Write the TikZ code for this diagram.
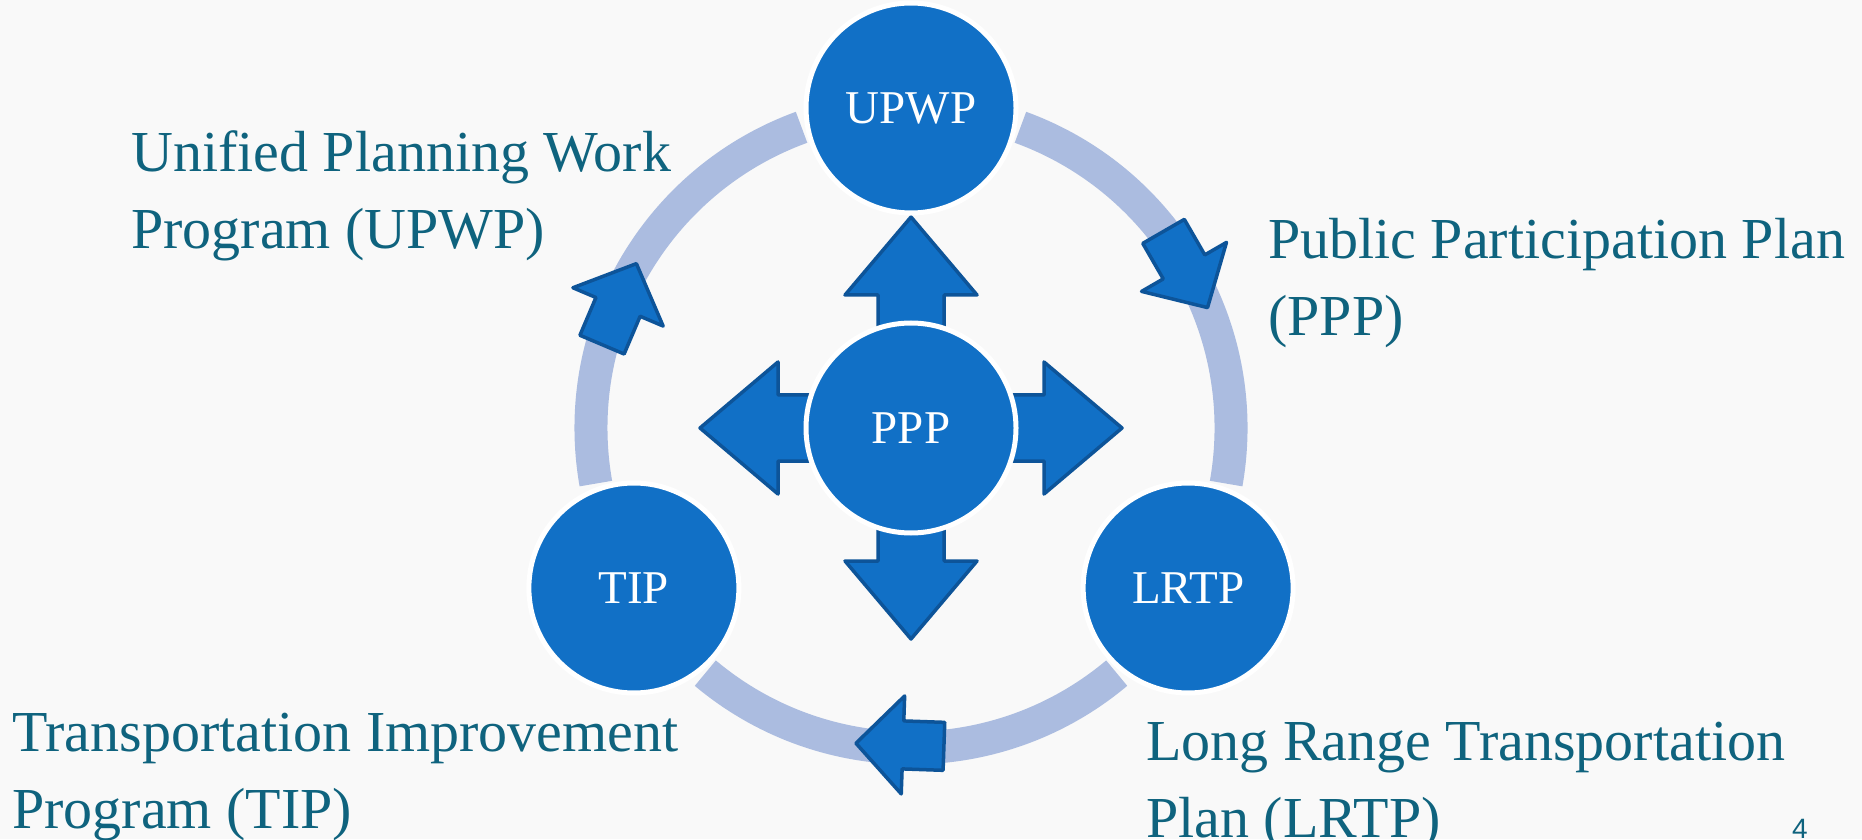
\documentclass[tikz,border=0pt]{standalone}
\usepackage{fontspec}
\setmainfont{Liberation Serif}
\newfontfamily\pagenumfont{Liberation Sans}
\usepackage{xcolor}
\usepackage{tikz}
\usetikzlibrary{calc,positioning}
\definecolor{paper}{HTML}{F9F9F9}
\definecolor{stageblue}{HTML}{1170C6}
\definecolor{edgeblue}{HTML}{0D5499}
\definecolor{ringblue}{HTML}{ABBCE0}
\definecolor{labelteal}{HTML}{0F637E}
\tikzset{
  StageCircle/.style={
    circle, fill=stageblue, draw=white, line width=5pt,
    minimum size=210pt, inner sep=0pt,
    text=white, font=\fontsize{47}{47}\selectfont
  },
  RingPart/.style={draw=ringblue, line width=33pt},
  BlockArrow/.style={
    fill=stageblue, draw=edgeblue, line width=3.5pt, line join=round
  },
  StageLabel/.style={
    text=labelteal, align=left, anchor=base west, inner sep=0pt,
    font=\fontsize{58}{77}\selectfont
  }
}
\newcommand{\RingArrow}[2]{%
  % #1 = centre of the ring, #2 = angle on the ring (arrow points clockwise)
  \draw[BlockArrow, shift={($(#1)+(#2:317)$)}, rotate=#2-90]
    (-44,-24) -- (-3,-24) -- (-3,-49) -- (44,0) -- (-3,49)
    -- (-3,24) -- (-44,24) -- cycle;
}

\begin{document}
\begin{tikzpicture}[x=1pt, y=1pt, line cap=butt]
  \useasboundingbox (0,0) rectangle (1862,839);
  \fill[paper] (0,0) rectangle (1862,839);

  % centre of the cycle
  \coordinate (hub) at (911,411);

  % ring, broken at the three stages
  \draw[RingPart] (hub) ++(110:320) arc[start angle=110, end angle=190, radius=320];
  \draw[RingPart] (hub) ++(230:320) arc[start angle=230, end angle=310, radius=320];
  \draw[RingPart] (hub) ++(350:320) arc[start angle=350, end angle=430, radius=320];

  % arrows on the ring
  \RingArrow{hub}{157}
  \RingArrow{hub}{30}
  \RingArrow{hub}{268}

  % arrows out of the centre
  \foreach \dir in {0,90,180,270}
    \draw[BlockArrow, shift={(hub)}, rotate=\dir]
      (0,-33) -- (133,-33) -- (133,-66) -- (211,0) -- (133,66)
      -- (133,33) -- (0,33) -- cycle;

  % stages
  \node[StageCircle] (ppp) at (hub) {PPP};
  \node[StageCircle] (upwp) at ($(hub)+(90:320)$) {UPWP};
  \node[StageCircle] (tip) at ($(hub)+(210:320)$) {TIP};
  \node[StageCircle] (lrtp) at ($(hub)+(330:320)$) {LRTP};

  % labels (base = baseline of the last line)
  \node[StageLabel] (upwplabel) at (131,590) {Unified Planning Work\\Program (UPWP)};
  \node[StageLabel] (ppplabel) at (1268,503) {Public Participation Plan\\(PPP)};
  \node[StageLabel] (tiplabel) at (12,11) {Transportation Improvement\\Program (TIP)};
  \node[StageLabel] (lrtplabel) at (1146,2) {Long Range Transportation\\Plan (LRTP)};

  \node[text=labelteal, font=\pagenumfont\fontsize{28}{28}\selectfont,
        anchor=base, inner sep=0pt] (pagenum) at (1800,1) {4};
\end{tikzpicture}
\end{document}
